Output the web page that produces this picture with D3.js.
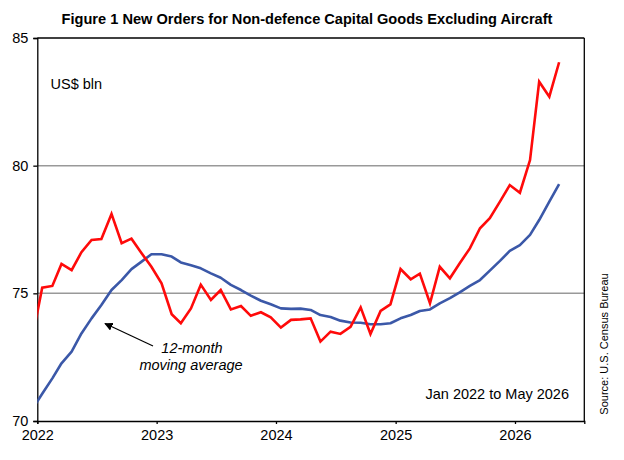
<!DOCTYPE html>
<html>
<head>
<meta charset="utf-8">
<script src="https://cdn.jsdelivr.net/npm/d3@7"></script>
<style>
  body { margin: 0; background: #fff; }
  svg { display: block; font-family: "Liberation Sans", Arial, sans-serif; }
</style>
</head>
<body>
<svg id="chart" width="624" height="460"></svg>
<script>
// ---- Data ----
const months = [
  "2021-12",
  "2022-01","2022-02","2022-03","2022-04","2022-05","2022-06","2022-07","2022-08","2022-09","2022-10","2022-11","2022-12",
  "2023-01","2023-02","2023-03","2023-04","2023-05","2023-06","2023-07","2023-08","2023-09","2023-10","2023-11","2023-12",
  "2024-01","2024-02","2024-03","2024-04","2024-05","2024-06","2024-07","2024-08","2024-09","2024-10","2024-11","2024-12",
  "2025-01","2025-02","2025-03","2025-04","2025-05","2025-06","2025-07","2025-08","2025-09","2025-10","2025-11","2025-12",
  "2026-01","2026-02","2026-03","2026-04","2026-05"
];
const orders = [
  73.2,
  75.22, 75.29, 76.15, 75.91, 76.61, 77.09, 77.13, 78.11, 76.96, 77.14, 76.57, 76.04,
  75.39, 74.18, 73.83, 74.41, 75.34, 74.74, 75.13, 74.37, 74.50, 74.12, 74.26, 74.06,
  73.66, 73.96, 73.98, 74.02, 73.11, 73.50, 73.41, 73.69, 74.45, 73.41, 74.31, 74.57,
  75.95, 75.55, 75.77, 74.61, 76.04, 75.59, 76.18, 76.76, 77.55, 77.94, 78.59, 79.24,
  78.94, 80.22, 83.29, 82.70, 84.05
];
const movingAvg = [
  70.45,
  71.07, 71.67, 72.26, 72.72, 73.43, 74.02, 74.54, 75.13, 75.52, 75.95, 76.24, 76.53,
  76.53, 76.44, 76.21, 76.10, 75.98, 75.78, 75.61, 75.33, 75.13, 74.91, 74.71, 74.57,
  74.41, 74.39, 74.40, 74.35, 74.15, 74.07, 73.93, 73.86, 73.85, 73.79, 73.79, 73.83,
  74.02, 74.15, 74.31, 74.37, 74.61, 74.81, 75.04, 75.29, 75.52, 75.89, 76.27, 76.66,
  76.89, 77.29, 77.87, 78.59, 79.28
];
const yTicks = [70, 75, 80, 85];
const gridValues = [75, 80];
const xTickYears = ["2022", "2023", "2024", "2025", "2026"];
const xDomain = ["2022-01-01", "2026-08-01"];

const titleText = "Figure 1 New Orders for Non-defence Capital Goods Excluding Aircraft";
const unitText = "US$ bln";
const periodText = "Jan 2022 to May 2026";
const sourceText = "Source: U.S. Census Bureau";
const annotLines = ["12-month", "moving average"];

// ---- Layout ----
const L = 37.3, R = 584.3, T = 38, B = 421;
const svg = d3.select("#chart");
const parseDay = d3.utcParse("%Y-%m-%d");
const parseMonth = s => parseDay(s + "-16");

const x = d3.scaleUtc().domain(xDomain.map(parseDay)).range([L, R]);
const y = d3.scaleLinear().domain([70, 85]).range([B, T]);

const rows = months.map((m, i) => ({ date: parseMonth(m), orders: orders[i], avg: movingAvg[i] }));

svg.append("defs").append("clipPath").attr("id", "clip")
  .append("rect").attr("x", L).attr("y", T).attr("width", R - L).attr("height", B - T);

// gridlines
svg.append("g").selectAll("line").data(gridValues).join("line")
  .attr("x1", L).attr("x2", R)
  .attr("y1", d => y(d)).attr("y2", d => y(d))
  .attr("stroke", "#999").attr("stroke-width", 1.5);

// frame (top & right)
svg.append("line").attr("x1", L).attr("x2", R).attr("y1", T).attr("y2", T)
  .attr("stroke", "#000").attr("stroke-width", 1.3);
svg.append("line").attr("x1", R).attr("x2", R).attr("y1", T).attr("y2", B)
  .attr("stroke", "#000").attr("stroke-width", 1.3);

// axes
const yAxis = d3.axisLeft(y).tickValues(yTicks).tickSize(4).tickPadding(5).tickFormat(d3.format("d"));
const gy = svg.append("g").attr("transform", `translate(${L},0)`).call(yAxis);
const xAxis = d3.axisBottom(x).tickValues(xTickYears.map(s => parseDay(s + "-01-01")))
  .tickSize(3).tickPadding(6).tickFormat(d3.utcFormat("%Y"));
const gx = svg.append("g").attr("transform", `translate(0,${B})`).call(xAxis);
[gx, gy].forEach(g => {
  g.select(".domain").attr("stroke", "#000").attr("stroke-width", 1.3);
  g.selectAll(".tick line").attr("stroke", "#000").attr("stroke-width", 1.3);
  g.selectAll(".tick text").attr("fill", "#000").style("font-size", "14.5px")
    .style("font-family", '"Liberation Sans", Arial, sans-serif');
});

// lines
const plot = svg.append("g").attr("clip-path", "url(#clip)");
const lineAvg = d3.line().x(d => x(d.date)).y(d => y(d.avg));
const lineOrd = d3.line().x(d => x(d.date)).y(d => y(d.orders));
plot.append("path").datum(rows).attr("d", lineAvg)
  .attr("fill", "none").attr("stroke", "#3b58a8").attr("stroke-width", 2.6)
  .attr("stroke-linejoin", "round");
plot.append("path").datum(rows).attr("d", lineOrd)
  .attr("fill", "none").attr("stroke", "#ff0a0a").attr("stroke-width", 2.6)
  .attr("stroke-linejoin", "miter");

// title
svg.append("text").attr("x", 307).attr("y", 24).attr("text-anchor", "middle")
  .style("font-size", "14.6px").style("font-weight", "bold").text(titleText);

// unit label
svg.append("text").attr("x", 50.5).attr("y", 89).style("font-size", "14.5px").text(unitText);

// period label
svg.append("text").attr("x", 569).attr("y", 399).attr("text-anchor", "end")
  .style("font-size", "14.5px").text(periodText);

// source (rotated)
svg.append("text").attr("transform", "translate(608,344) rotate(-90)")
  .attr("text-anchor", "middle").style("font-size", "11px").text(sourceText);

// annotation
svg.append("defs").append("marker").attr("id", "arrow")
  .attr("viewBox", "0 0 10 10").attr("refX", 9).attr("refY", 5)
  .attr("markerWidth", 7).attr("markerHeight", 7).attr("orient", "auto")
  .append("path").attr("d", "M0,0 L10,5 L0,10 z").attr("fill", "#000");
svg.append("line").attr("x1", 153).attr("y1", 346).attr("x2", 105).attr("y2", 323.5)
  .attr("stroke", "#000").attr("stroke-width", 1.2).attr("marker-end", "url(#arrow)");
const at = svg.append("text").attr("text-anchor", "middle")
  .style("font-size", "14.5px").style("font-style", "italic");
at.append("tspan").attr("x", 192).attr("y", 353).text(annotLines[0]);
at.append("tspan").attr("x", 191).attr("y", 370).text(annotLines[1]);
</script>
</body>
</html>
